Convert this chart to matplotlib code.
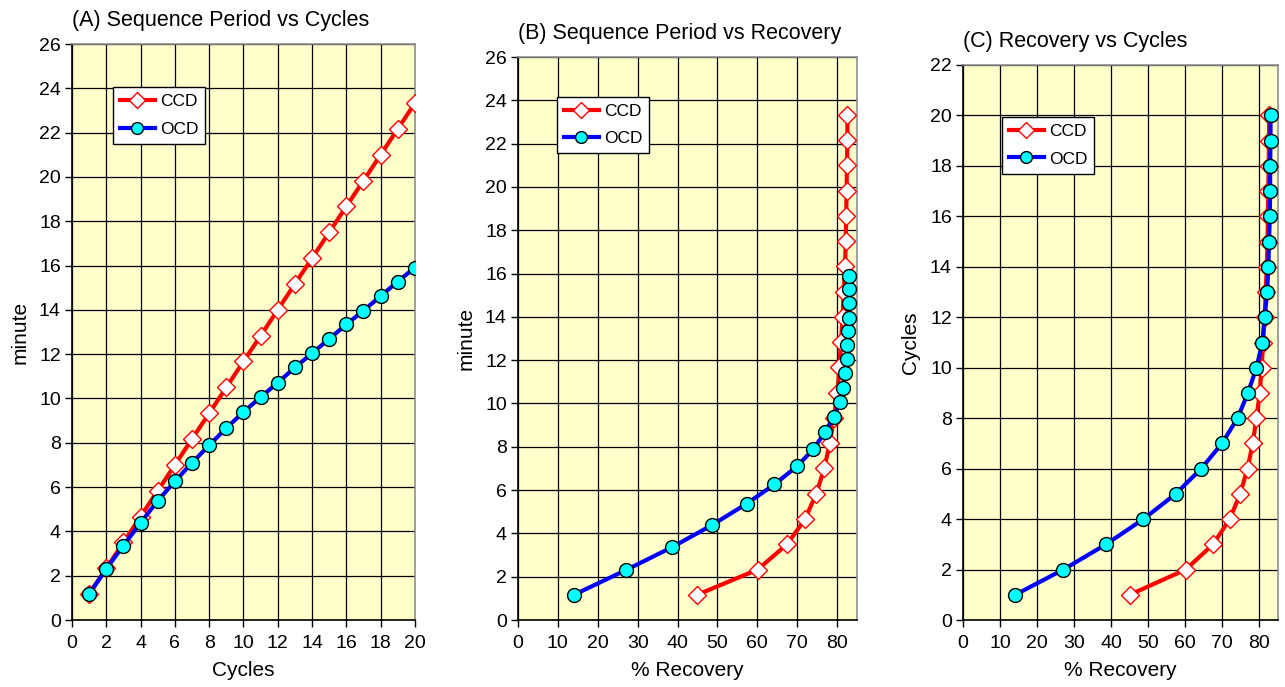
import matplotlib
matplotlib.use("Agg")
import matplotlib.pyplot as plt

plt.rcParams["font.family"] = ["Liberation Sans", "DejaVu Sans"]

# 데이터
cycles = [1, 2, 3, 4, 5, 6, 7, 8, 9, 10, 11, 12, 13, 14, 15, 16, 17, 18, 19, 20]
ccd_minute = [1.17, 2.33, 3.50, 4.67, 5.83, 7.00, 8.17, 9.33, 10.50, 11.67,
              12.83, 14.00, 15.17, 16.33, 17.50, 18.67, 19.83, 21.00, 22.17, 23.33]
ocd_minute = [1.17, 2.31, 3.36, 4.39, 5.38, 6.26, 7.09, 7.89, 8.66, 9.39,
              10.06, 10.71, 11.40, 12.04, 12.69, 13.34, 13.97, 14.62, 15.28, 15.91]
ccd_recovery = [45.0, 60.1, 67.5, 72.0, 74.8, 76.8, 78.2, 79.2, 80.1, 80.6,
                81.0, 81.4, 81.7, 82.0, 82.2, 82.3, 82.4, 82.5, 82.6, 82.6]
ocd_recovery = [14.1, 27.1, 38.6, 48.7, 57.4, 64.3, 69.9, 74.1, 76.9, 79.2,
                80.8, 81.4, 82.1, 82.4, 82.6, 82.8, 82.9, 82.9, 83.0, 83.0]

titles = ["(A) Sequence Period vs Cycles",
          "(B) Sequence Period vs Recovery",
          "(C) Recovery vs Cycles"]


def style_axes(ax, xlim, xticks, ylim, yticks, xlabel, ylabel, title):
    ax.set_facecolor("#FFFFCC")
    ax.set_xlim(*xlim)
    ax.set_ylim(*ylim)
    ax.set_xticks(xticks)
    ax.set_yticks(yticks)
    ax.grid(True, color="black", linewidth=0.9)
    ax.set_axisbelow(True)
    ax.tick_params(direction="out", length=5, width=1, labelsize=14, pad=3)
    ax.tick_params(axis="x", pad=6)
    for side in ["left", "bottom"]:
        ax.spines[side].set_color("black")
        ax.spines[side].set_linewidth(1.2)
    for side in ["top", "right"]:
        ax.spines[side].set_color("#909090")
        ax.spines[side].set_linewidth(1.2)
    ax.set_xlabel(xlabel, fontsize=15, labelpad=6)
    ax.set_ylabel(ylabel, fontsize=15, labelpad=7)
    ax.set_title(title, fontsize=15.5, loc="left", pad=13)


def draw(ax, x1, y1, x2, y2, legend_anchor):
    ax.plot(x1, y1, color="red", linewidth=3.0, marker="D", markersize=9.5,
            markerfacecolor="white", markeredgecolor="red", markeredgewidth=1.0,
            label="CCD", zorder=3)
    ax.plot(x2, y2, color="blue", linewidth=3.0, marker="o", markersize=10,
            markerfacecolor="#00FFFF", markeredgecolor="black", markeredgewidth=1.0,
            label="OCD", zorder=4)
    leg = ax.legend(loc="upper left", bbox_to_anchor=legend_anchor, fontsize=12.5,
                    frameon=True, fancybox=False, framealpha=1, edgecolor="black",
                    handlelength=2.0, borderpad=0.4, labelspacing=0.7,
                    handletextpad=0.3, borderaxespad=0, markerscale=0.85)
    leg.get_frame().set_linewidth(1.0)


fig = plt.figure(figsize=(12.85, 6.87), dpi=100)

ax_a = fig.add_axes([0.0560, 0.0975, 0.2669, 0.8384])
ax_b = fig.add_axes([0.4031, 0.0975, 0.2638, 0.8195])
ax_c = fig.add_axes([0.7494, 0.0975, 0.2451, 0.8079])

draw(ax_a, cycles, ccd_minute, cycles, ocd_minute, (0.12, 0.925))
style_axes(ax_a, (0, 20), range(0, 21, 2), (0, 26), range(0, 27, 2),
           "Cycles", "minute", titles[0])

draw(ax_b, ccd_recovery, ccd_minute, ocd_recovery, ocd_minute, (0.115, 0.929))
style_axes(ax_b, (0, 85), range(0, 81, 10), (0, 26), range(0, 27, 2),
           "% Recovery", "minute", titles[1])

draw(ax_c, ccd_recovery, cycles, ocd_recovery, cycles, (0.124, 0.906))
style_axes(ax_c, (0, 85), range(0, 81, 10), (0, 22), range(0, 23, 2),
           "% Recovery", "Cycles", titles[2])

fig.savefig("out.png", dpi=100)
